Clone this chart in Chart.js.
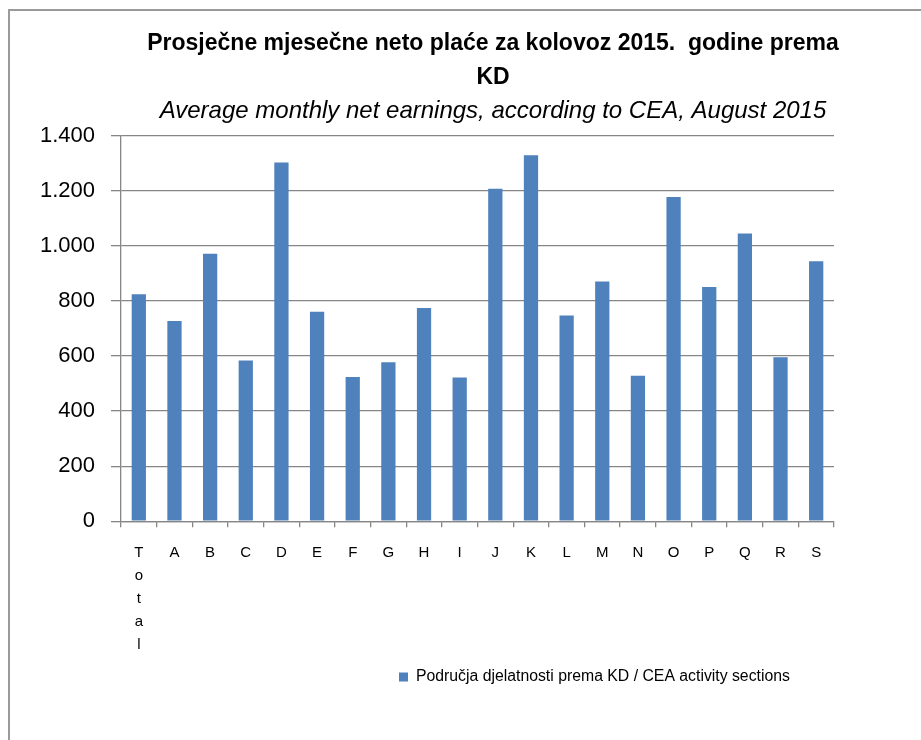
<!DOCTYPE html>
<html>
<head>
<meta charset="utf-8">
<script src="https://cdn.jsdelivr.net/npm/chart.js@4/dist/chart.umd.min.js"></script>
<style>
  html, body { margin: 0; padding: 0; background: #ffffff; overflow: hidden; }
  #frame { position: absolute; left: 8px; top: 9px; width: 2000px; height: 2000px;
           border-left: 2px solid #9a9a9a; border-top: 2px solid #9a9a9a; }
  #wrap { position: absolute; left: 0; top: 0; width: 921px; height: 740px; }
</style>
</head>
<body>
<div id="frame"></div>
<div id="wrap"><canvas id="c" width="921" height="740"></canvas></div>
<script>
// ---- data ----
const categories = [['T', 'o', 't', 'a', 'l'], 'A', 'B', 'C', 'D', 'E', 'F', 'G', 'H', 'I',
                    'J', 'K', 'L', 'M', 'N', 'O', 'P', 'Q', 'R', 'S'];
const earnings = [825, 728, 972, 584, 1304, 761, 524, 578, 775, 522,
                  1208, 1330, 748, 871, 529, 1178, 851, 1046, 596, 945];
const yTickLabels = ['0', '200', '400', '600', '800', '1.000', '1.200', '1.400'];
const titleLines = ['Prosječne mjesečne neto plaće za kolovoz 2015.  godine prema', 'KD'];
const subtitleText = 'Average monthly net earnings, according to CEA, August 2015';
const seriesLabel = 'Područja djelatnosti prema KD / CEA activity sections';

const FONT = "'Liberation Sans', Arial, sans-serif";
const GRID = '#868686';

const placeBoxes = {
  id: 'placeBoxes',
  afterLayout(chart) {
    chart.boxes.forEach(b => {
      if (b.position === 'top' && b !== chart.legend) { b.left += 76; b.right += 76; }
    });
    const lg = chart.legend;
    const pad = lg.options.labels.padding;
    lg.left = 399 - pad;
    lg.right = 921;
  }
};

new Chart(document.getElementById('c'), {
  type: 'bar',
  data: {
    labels: categories,
    datasets: [{
      label: seriesLabel,
      data: earnings,
      backgroundColor: '#4f81bd',
      borderWidth: 0,
      categoryPercentage: 1.0,
      barPercentage: 0.4
    }]
  },
  options: {
    responsive: false,
    animation: false,
    devicePixelRatio: 1,
    layout: { padding: { left: 0, right: 87, top: 0, bottom: 45 } },
    plugins: {
      title: {
        display: true,
        text: titleLines,
        color: '#000',
        font: { family: FONT, size: 23, weight: 'bold', lineHeight: '34px' },
        padding: { top: 27, bottom: 4 }
      },
      subtitle: {
        display: true,
        text: subtitleText,
        color: '#000',
        font: { family: FONT, size: 24, style: 'italic', lineHeight: '24px' },
        padding: { top: 0, bottom: 13 }
      },
      legend: {
        display: true,
        position: 'bottom',
        align: 'start',
        labels: {
          color: '#000',
          font: { family: FONT, size: 15.8 },
          boxWidth: 9,
          boxHeight: 9,
          padding: 10
        }
      },
      tooltip: { enabled: false }
    },
    scales: {
      x: {
        grid: { display: true, drawOnChartArea: false, drawTicks: true, tickLength: 6,
                offset: true, color: GRID, lineWidth: 1.3 },
        border: { display: true, color: GRID, width: 1.3 },
        ticks: { color: '#000', font: { family: FONT, size: 15, lineHeight: '23px' },
                 padding: 14, maxRotation: 0, minRotation: 0, autoSkip: false },
        afterFit(scale) { scale.height = 138; }
      },
      y: {
        min: 0, max: 1400,
        grid: { color: GRID, lineWidth: 1.3, drawTicks: true, tickLength: 10 },
        border: { display: true, color: GRID, width: 1.3 },
        ticks: {
          stepSize: 200,
          color: '#000',
          font: { family: FONT, size: 22 },
          padding: 16,
          callback: (v, i) => yTickLabels[i]
        },
        afterFit(scale) { scale.width = 121; }
      }
    }
  },
  plugins: [placeBoxes]
});
</script>
</body>
</html>
